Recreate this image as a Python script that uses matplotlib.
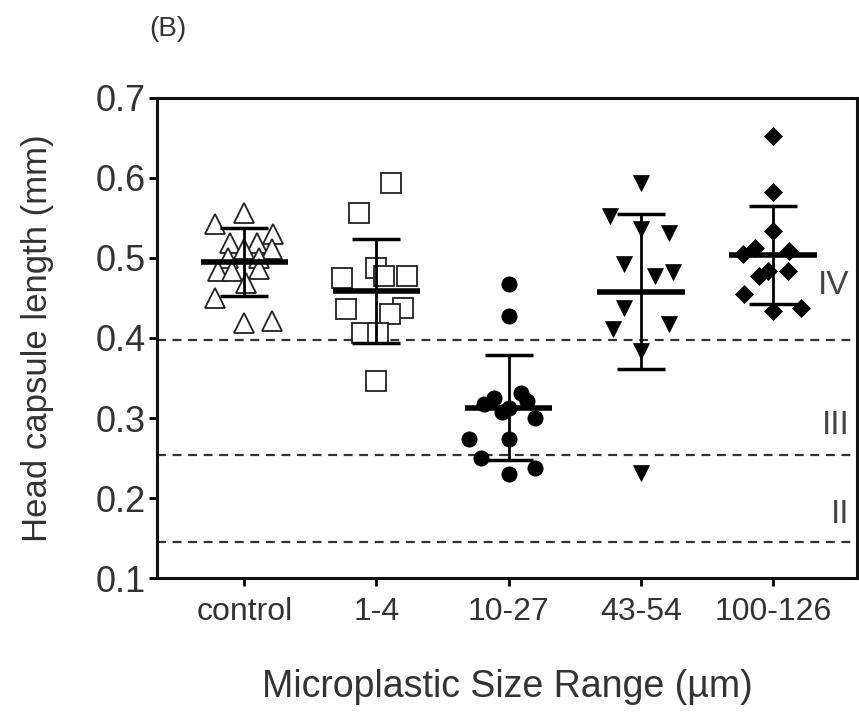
import numpy as np
import matplotlib
matplotlib.use("Agg")
import matplotlib.pyplot as plt

plt.rcParams['font.family'] = ['Liberation Sans', 'DejaVu Sans']

groups = ['control', '1-4', '10-27', '43-54', '100-126']

# values (mm) and the sideways spread of each point
ctrl_y = [0.543, 0.556, 0.530, 0.519, 0.519, 0.511, 0.511, 0.500, 0.500,
          0.484, 0.484, 0.486, 0.469, 0.450, 0.419, 0.421]
ctrl_dx = [-0.22, 0.0, 0.22, -0.11, 0.10, 0.0, 0.21, -0.12, 0.11,
           -0.20, -0.09, 0.11, 0.01, -0.22, 0.0, 0.21]

s14_y = [0.594, 0.556, 0.488, 0.475, 0.478, 0.478, 0.436, 0.437, 0.430,
         0.406, 0.406, 0.346]
s14_dx = [0.11, -0.13, 0.0, -0.26, 0.23, 0.06, -0.23, 0.20, 0.10,
          -0.11, 0.01, 0.0]

s1027_y = [0.467, 0.428, 0.325, 0.331, 0.317, 0.321, 0.312, 0.308, 0.300,
           0.274, 0.274, 0.250, 0.237, 0.230]
s1027_dx = [0.0, 0.0, -0.11, 0.09, -0.19, 0.14, 0.0, -0.05, 0.20,
            -0.30, 0.0, -0.21, 0.20, 0.0]

s4354_y = [0.594, 0.553, 0.536, 0.531, 0.492, 0.478, 0.482, 0.438, 0.411,
           0.417, 0.384, 0.231]
s4354_dx = [0.0, -0.23, 0.0, 0.21, -0.13, 0.11, 0.24, -0.13, -0.21,
            0.21, 0.0, 0.0]

s100_y = [0.652, 0.582, 0.534, 0.513, 0.509, 0.505, 0.484, 0.484, 0.478,
          0.455, 0.434, 0.437]
s100_dx = [0.0, 0.0, 0.0, -0.14, 0.12, -0.23, -0.04, 0.11, -0.11,
           -0.22, 0.0, 0.21]

means = [0.495, 0.459, 0.313, 0.458, 0.504]
sds = [0.043, 0.065, 0.066, 0.097, 0.061]

instars = [0.397, 0.254, 0.145]
instar_lbl = ['IV', 'III', 'II']
instar_lbl_y = [0.465, 0.291, 0.179]

fig = plt.figure(figsize=(8.59, 7.13), dpi=100)
ax = fig.add_axes([0.1828, 0.1893, 0.8149, 0.6733])

txt = '#333333'

for yv in instars:
    ax.axhline(yv, color='#333333', lw=1.6, ls=(0, (4, 3)), zorder=1)

series = [
    (ctrl_y, ctrl_dx, dict(marker='^', ms=14, mfc='white', mec='#222222', mew=1.3)),
    (s14_y, s14_dx, dict(marker='s', ms=14, mfc='white', mec='#222222', mew=1.3)),
    (s1027_y, s1027_dx, dict(marker='o', ms=11, mfc='black', mec='black', mew=0.5)),
    (s4354_y, s4354_dx, dict(marker='v', ms=12, mfc='black', mec='black', mew=0.5)),
    (s100_y, s100_dx, dict(marker='D', ms=9.5, mfc='black', mec='black', mew=0.5)),
]
for i, (yy, dx, st) in enumerate(series):
    xx = i + np.array(dx)
    ax.plot(xx, yy, ls='none', zorder=2, **st)

xpos = np.arange(len(groups))
ax.hlines(means, xpos - 0.33, xpos + 0.33, colors='black', lw=4, zorder=4)
ax.errorbar(xpos, means, yerr=sds, fmt='none', ecolor='black', elinewidth=2,
            capsize=17, capthick=2.5, zorder=4)

for yv, lb in zip(instar_lbl_y, instar_lbl):
    ax.text(4.58, yv, lb, ha='right', va='center', fontsize=24, color='#444444')

ax.set_xlim(-0.66, 4.635)
ax.set_ylim(0.1, 0.7)
ax.set_yticks([0.1, 0.2, 0.3, 0.4, 0.5, 0.6, 0.7])
ax.set_yticklabels(['0.1', '0.2', '0.3', '0.4', '0.5', '0.6', '0.7'])
ax.set_xticks(xpos)
ax.set_xticklabels(groups)
ax.tick_params(axis='both', labelsize=26, colors='black', labelcolor=txt,
               width=2, length=6)
ax.tick_params(axis='y', pad=2)
ax.tick_params(axis='x', labelsize=23, pad=8)
for sp in ax.spines.values():
    sp.set_linewidth(2.2)
    sp.set_color('#111111')

ax.set_ylabel('Head capsule length (mm)', fontsize=25, color=txt, labelpad=30)
ax.set_xlabel('Microplastic Size Range (\u00b5m)', fontsize=27, color=txt, labelpad=30)
fig.text(0.196, 0.96, '(B)', fontsize=20, color=txt, ha='center', va='center')

fig.savefig('out.png', dpi=100)
